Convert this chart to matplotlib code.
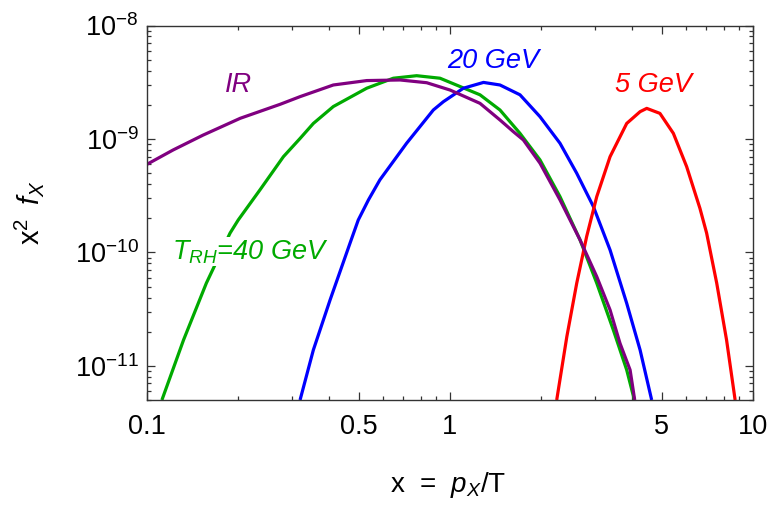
import matplotlib
matplotlib.use("Agg")
import matplotlib.pyplot as plt
from matplotlib.ticker import FixedLocator, FixedFormatter, LogLocator, NullFormatter

plt.rcParams['font.family'] = ['Liberation Sans', 'DejaVu Sans']
plt.rcParams['mathtext.fontset'] = 'custom'
plt.rcParams['mathtext.rm'] = 'Liberation Sans'
plt.rcParams['mathtext.it'] = 'Liberation Sans:italic'

# ---- data ----
green_x = [0.112, 0.132, 0.157, 0.188, 0.200, 0.236, 0.282, 0.320, 0.354, 0.412, 0.531, 0.650,
           0.776, 0.927, 1.256, 1.462, 1.702, 1.982, 2.307, 2.686, 3.05, 3.46, 3.83, 4.06]
green_y = [5e-12, 1.69e-11, 5.36e-11, 1.48e-10, 1.93e-10, 3.56e-10, 6.98e-10, 1.01e-9, 1.37e-9,
           1.93e-9, 2.80e-9, 3.43e-9, 3.61e-9, 3.43e-9, 2.45e-9, 1.80e-9, 1.12e-9, 6.53e-10,
           3.10e-10, 1.29e-10, 5.36e-11, 2.07e-11, 9.2e-12, 5e-12]

purple_x = [0.1, 0.122, 0.153, 0.203, 0.275, 0.320, 0.412, 0.531, 0.684, 0.838, 1.0, 1.256,
            1.462, 1.618, 1.746, 1.982, 2.307, 2.686, 3.05, 3.375, 3.64, 3.93, 4.07]
purple_y = [5.98e-10, 8.0e-10, 1.08e-9, 1.52e-9, 2.02e-9, 2.36e-9, 2.99e-9, 3.27e-9, 3.31e-9,
            3.13e-9, 2.70e-9, 2.06e-9, 1.47e-9, 1.16e-9, 9.8e-10, 6.11e-10, 2.90e-10, 1.29e-10,
            6.12e-11, 3.11e-11, 1.58e-11, 9.2e-12, 5e-12]

blue_x = [0.320, 0.354, 0.402, 0.468, 0.498, 0.538, 0.587, 0.719, 0.881, 0.951, 1.107, 1.29,
          1.462, 1.702, 1.982, 2.307, 2.619, 2.972, 3.375, 3.83, 4.24, 4.63]
blue_y = [5e-12, 1.38e-11, 3.81e-11, 1.21e-10, 1.93e-10, 2.90e-10, 4.36e-10, 9.16e-10, 1.80e-9,
          2.13e-9, 2.80e-9, 3.15e-9, 2.99e-9, 2.45e-9, 1.57e-9, 9.16e-10, 4.99e-10, 2.54e-10,
          1.05e-10, 3.56e-11, 1.38e-11, 5e-12]

red_x = [2.25, 2.43, 2.62, 2.825, 3.05, 3.375, 3.83, 4.24, 4.46, 4.93, 5.46, 6.04, 6.68, 7.03,
         7.59, 8.18, 8.73]
red_y = [5e-12, 1.81e-11, 5.36e-11, 1.38e-10, 3.10e-10, 6.98e-10, 1.37e-9, 1.74e-9, 1.86e-9,
         1.68e-9, 1.12e-9, 5.70e-10, 2.45e-10, 1.48e-10, 5.36e-11, 1.69e-11, 5e-12]

x_ticks = [0.1, 0.5, 1, 5, 10]
x_tick_labels = ['0.1', '0.5', '1', '5', '10']
y_ticks = [1e-11, 1e-10, 1e-9, 1e-8]
y_tick_labels = [r'$10^{-11}$', r'$10^{-10}$', r'$10^{-9}$', r'$10^{-8}$']

c_green = '#00AA00'
c_blue = '#0000FF'
c_red = '#FF0000'
c_purple = '#800080'

fig = plt.figure(figsize=(7.75, 5.13), dpi=100)
ax = fig.add_axes([147/775, 113/513, 606/775, 374.5/513])

lw = 2.3
kw = dict(lw=lw, solid_joinstyle='round', solid_capstyle='butt')
ax.plot(green_x, green_y, color=c_green, **kw)
ax.plot(blue_x, blue_y, color=c_blue, **kw)
ax.plot(red_x, red_y, color=c_red, **kw)
ax.plot(purple_x, purple_y, color=c_purple, **kw)

ax.set_xscale('log')
ax.set_yscale('log')
ax.set_xlim(0.1, 10)
ax.set_ylim(5.0e-12, 1e-8)

ax.xaxis.set_major_locator(FixedLocator(x_ticks))
ax.xaxis.set_major_formatter(FixedFormatter(x_tick_labels))
minor_x = [v * d for d in (0.1, 1) for v in range(2, 10) if v != 5]
ax.xaxis.set_minor_locator(FixedLocator(minor_x))
ax.xaxis.set_minor_formatter(NullFormatter())

ax.yaxis.set_major_locator(FixedLocator(y_ticks))
ax.yaxis.set_major_formatter(FixedFormatter(y_tick_labels))
ax.yaxis.set_minor_locator(LogLocator(base=10, subs=range(2, 10)))
ax.yaxis.set_minor_formatter(NullFormatter())

ax.tick_params(which='both', direction='in', top=True, right=True, width=0.9, color='#333333')
ax.tick_params(which='major', length=5.5, labelsize=19.5)
ax.tick_params(which='minor', length=3)
ax.tick_params(axis='x', which='major', pad=10)
ax.tick_params(axis='y', which='major', pad=6)
for s in ax.spines.values():
    s.set_linewidth(1.0)
    s.set_color('#333333')

ax.set_xlabel(r'x  =  $p_X$/T', fontsize=20)
ax.xaxis.set_label_coords(0.497, -0.227)
ax.xaxis.label.set_va('center')
ax.set_ylabel(r'$\mathregular{x}^2\;\;f_X$', fontsize=21)
ax.yaxis.set_label_coords(-0.195, 0.5)
ax.yaxis.label.set_va('center')

tfs = 19.5
ax.text(0.151, 0.823, 'IR', color=c_purple, fontsize=tfs, style='italic',
        transform=ax.transAxes, ha='center', va='baseline')
ax.text(0.572, 0.8865, '20 GeV', color=c_blue, fontsize=tfs, style='italic',
        transform=ax.transAxes, ha='center', va='baseline')
ax.text(0.836, 0.8224, '5 GeV', color=c_red, fontsize=tfs, style='italic',
        transform=ax.transAxes, ha='center', va='baseline')
ax.text(0.171, 0.3765, r'$T_{RH}$=40 GeV', color=c_green, fontsize=tfs, style='italic',
        transform=ax.transAxes, ha='center', va='baseline', zorder=5,
        bbox=dict(facecolor='white', edgecolor='none', pad=0.5))

fig.savefig('out.png', dpi=100)
